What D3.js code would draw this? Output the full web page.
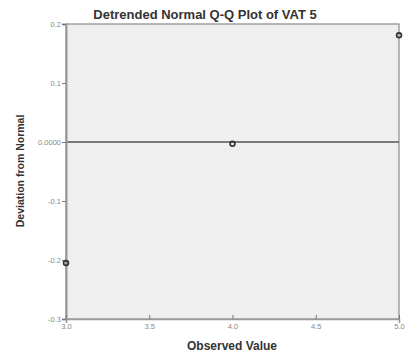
<!DOCTYPE html>
<html><head><meta charset="utf-8">
<script src="https://cdn.jsdelivr.net/npm/d3@7"></script>
<style>html,body{margin:0;padding:0;background:#fff;}svg{display:block;}</style>
</head><body>
<script>
const observed = [3.0, 4.0, 5.0];
const deviation = [-0.205, -0.003, 0.181];
const xTicks = [3.0, 3.5, 4.0, 4.5, 5.0];
const yTicks = [0.2, 0.1, 0.0, -0.1, -0.2, -0.3];
const yTickLabels = ["0.2", "0.1", "0.0000", "-0.1", "-0.2", "-0.3"];

const W = 406, H = 356;
const m = {left: 66, right: 399, top: 24, bottom: 319};
const svg = d3.select("body").append("svg").attr("width", W).attr("height", H);

const x = d3.scaleLinear().domain([3.0, 5.0]).range([m.left, m.right]);
const y = d3.scaleLinear().domain([-0.3, 0.2]).range([m.bottom, m.top]);

svg.append("rect").attr("x", m.left).attr("y", m.top)
  .attr("width", m.right - m.left).attr("height", m.bottom - m.top)
  .attr("fill", "#efefef").attr("stroke", "#8a8a8a").attr("stroke-width", 1.2);

// zero reference line
svg.append("line").attr("x1", m.left).attr("x2", m.right)
  .attr("y1", y(0)).attr("y2", y(0)).attr("stroke", "#555").attr("stroke-width", 1.4);

const yAxis = d3.axisLeft(y).tickValues(yTicks).tickSize(4).tickPadding(1)
  .tickFormat((d, i) => yTickLabels[i]);
const gy = svg.append("g").attr("transform", `translate(${m.left},0)`).call(yAxis);
gy.select(".domain").attr("stroke", "#999").attr("stroke-width", 2);
gy.selectAll(".tick line").attr("stroke", "#777");
gy.selectAll(".tick text").attr("fill", "#888").style("font", "7.5px Arial, 'Liberation Sans', sans-serif");

const xAxis = d3.axisBottom(x).tickValues(xTicks).tickSize(4).tickPadding(1)
  .tickFormat(d3.format(".1f"));
const gx = svg.append("g").attr("transform", `translate(0,${m.bottom})`).call(xAxis);
gx.select(".domain").attr("stroke", "#999").attr("stroke-width", 1.5);
gx.selectAll(".tick line").attr("stroke", "#777").attr("transform", "translate(0,-4)");
gx.selectAll(".tick text").attr("fill", "#888").style("font", "7.5px Arial, 'Liberation Sans', sans-serif");

svg.selectAll("circle.pt").data(observed).enter().append("circle")
  .attr("class", "pt")
  .attr("cx", (d) => x(d)).attr("cy", (d, i) => y(deviation[i]))
  .attr("r", 2.4).attr("fill", "none").attr("stroke", "#333").attr("stroke-width", 1.7);

svg.append("text").attr("x", 205).attr("y", 19).attr("text-anchor", "middle")
  .attr("fill", "#333").style("font", "bold 13px Arial, 'Liberation Sans', sans-serif")
  .text("Detrended Normal Q-Q Plot of VAT 5");

svg.append("text").attr("x", 232).attr("y", 350).attr("text-anchor", "middle")
  .attr("fill", "#333").style("font", "bold 12px Arial, 'Liberation Sans', sans-serif")
  .text("Observed Value");

svg.append("text").attr("transform", "translate(24,171) rotate(-90)").attr("text-anchor", "middle")
  .attr("fill", "#333").style("font", "bold 10.5px Arial, 'Liberation Sans', sans-serif")
  .text("Deviation from Normal");
</script>
</body></html>
